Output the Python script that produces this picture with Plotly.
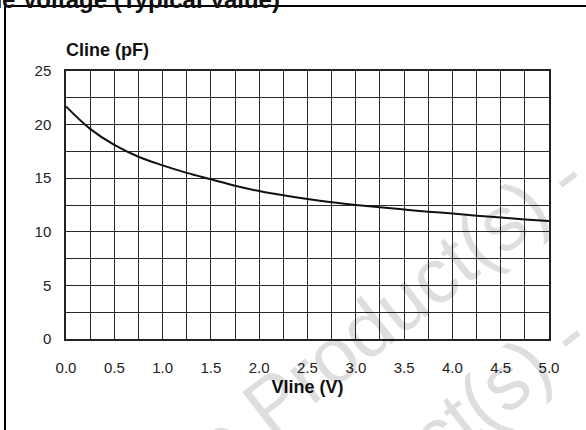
import plotly.graph_objects as go

# Data
vline = [0.0, 0.25, 0.5, 0.75, 1.0, 1.25, 1.5, 1.75, 2.0, 2.25, 2.5,
         2.75, 3.0, 3.25, 3.5, 3.75, 4.0, 4.25, 4.5, 4.75, 5.0]
cline = [21.7, 19.6, 18.1, 17.0, 16.2, 15.5, 14.9, 14.3, 13.8, 13.4, 13.05,
         12.75, 12.5, 12.28, 12.08, 11.88, 11.7, 11.5, 11.33, 11.15, 11.0]
x_ticks = [0.0, 0.5, 1.0, 1.5, 2.0, 2.5, 3.0, 3.5, 4.0, 4.5, 5.0]
y_ticks = [0, 5, 10, 15, 20, 25]

W, H = 586, 430
L, R, T, B = 66, 37, 71, 91
pw, ph = W - L - R, H - T - B

def px(x):
    return (x - L) / pw

def py(y):
    return (H - B - y) / ph

FONT = "Liberation Sans, Arial, sans-serif"

fig = go.Figure()
fig.add_trace(go.Scatter(x=vline, y=cline, mode="lines",
                         line=dict(color="#111", width=2, shape="spline"),
                         showlegend=False, hoverinfo="skip"))

grid_col = "#2a2a2a"
fig.update_xaxes(range=[0, 5], tickvals=x_ticks, tickformat=".1f",
                 showgrid=True, gridcolor=grid_col, gridwidth=1,
                 minor=dict(dtick=0.25, tick0=0, showgrid=True, gridcolor=grid_col, gridwidth=1),
                 showline=True, linecolor="#222", linewidth=1.5, mirror=True,
                 zeroline=False, ticks="outside", ticklen=14, tickcolor="rgba(0,0,0,0)",
                 tickfont=dict(family=FONT, size=15, color="#222"),
                 title=dict(text="<b>Vline (V)</b>", standoff=6,
                            font=dict(family=FONT, size=18, color="#111")),
                 fixedrange=True)
fig.update_yaxes(range=[0, 25], tickvals=y_ticks,
                 showgrid=True, gridcolor=grid_col, gridwidth=1,
                 minor=dict(dtick=2.5, tick0=0, showgrid=True, gridcolor=grid_col, gridwidth=1),
                 showline=True, linecolor="#222", linewidth=1.5, mirror=True,
                 zeroline=False, ticks="outside", ticklen=10, tickcolor="rgba(0,0,0,0)",
                 tickfont=dict(family=FONT, size=15, color="#222"),
                 fixedrange=True)

annotations = [
    dict(text="<b>Cline (pF)</b>", xref="paper", yref="paper",
         x=px(64), y=py(50), xanchor="left", yanchor="middle", showarrow=False,
         font=dict(family=FONT, size=18, color="#111")),
    dict(text="<b>Line Capacitance vs. Line Voltage (Typical Value)</b>", xref="paper", yref="paper",
         x=px(282), y=py(15), xanchor="right", yanchor="bottom", showarrow=False,
         font=dict(family=FONT, size=24, color="#111")),
    dict(text="Obsolete Product(s) -", xref="paper", yref="paper",
         x=px(282), y=py(395), xanchor="center", yanchor="middle", showarrow=False,
         textangle=-38, font=dict(family=FONT, size=78, color="rgba(0,0,0,0.13)")),
    dict(text="Obsolete Product(s) -", xref="paper", yref="paper",
         x=px(285), y=py(554), xanchor="center", yanchor="middle", showarrow=False,
         textangle=-38, font=dict(family=FONT, size=78, color="rgba(0,0,0,0.13)")),
]

shapes = [
    dict(type="line", xref="paper", yref="paper", x0=px(5), x1=px(5), y0=py(6), y1=py(440),
         line=dict(color="#000", width=2)),
    dict(type="line", xref="paper", yref="paper", x0=px(5), x1=px(600), y0=py(6), y1=py(6),
         line=dict(color="#000", width=2)),
]

fig.update_layout(width=W, height=H, margin=dict(l=L, r=R, t=T, b=B),
                  paper_bgcolor="white", plot_bgcolor="rgba(0,0,0,0)",
                  annotations=annotations, shapes=shapes, showlegend=False)

fig.write_html("out.html", config={"displayModeBar": False},
               post_script="document.body.style.margin='0';document.body.style.overflow='hidden';")
